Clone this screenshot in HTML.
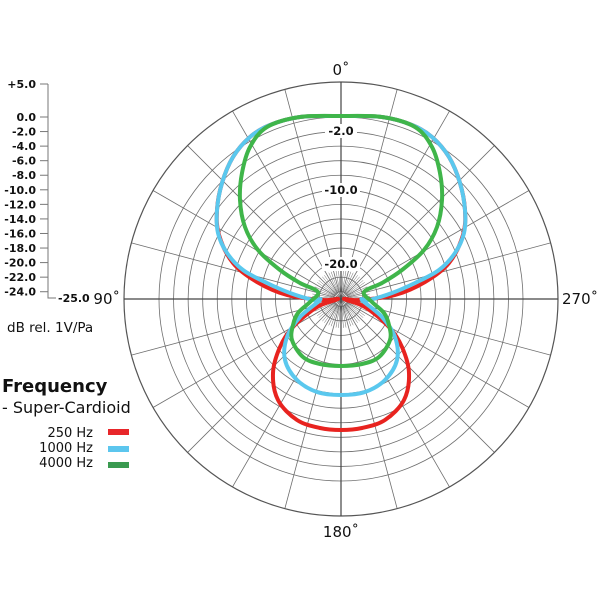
<!DOCTYPE html>
<html><head><meta charset="utf-8"><style>
html,body{margin:0;padding:0;background:#fff;}
svg{display:block;}
text{font-family:"DejaVu Sans","Liberation Sans",sans-serif;fill:#111;}
</style></head><body>
<svg id="s" width="600" height="600" viewBox="0 0 600 600" xmlns="http://www.w3.org/2000/svg">
<g id="grid" stroke="#6e6e6e" stroke-width="0.8" fill="none"></g>
<circle cx="341" cy="299" r="217" fill="none" stroke="#555" stroke-width="1.2"/>
<line x1="124" y1="299" x2="558" y2="299" stroke="#444" stroke-width="1.2"/>
<line x1="341" y1="82" x2="341" y2="516" stroke="#444" stroke-width="1.2"/>
<g id="lbl" font-size="11.5" font-weight="bold" text-anchor="middle">
<rect x="325" y="124" width="32" height="14" fill="#fff"/><text x="341" y="135">-2.0</text>
<rect x="322" y="183" width="38" height="14" fill="#fff"/><text x="341" y="194">-10.0</text>
<rect x="322" y="257" width="38" height="14" fill="#fff"/><text x="341" y="268">-20.0</text>
</g>
<g id="curves" fill="none" stroke-width="4" stroke-linejoin="round"></g>
<text x="341" y="75" font-size="15" text-anchor="middle">0˚</text>
<text x="341" y="537" font-size="15" text-anchor="middle">180˚</text>
<text x="120" y="304" font-size="15" text-anchor="end">90˚</text>
<text x="562" y="304" font-size="15">270˚</text>
<g id="scale" stroke="#777" stroke-width="1" fill="none"><polyline points="48,84 48,298 56,298"/></g>
<g id="slbl" font-size="11" font-weight="bold" text-anchor="end"></g>
<text x="58" y="302" font-size="11" font-weight="bold">-25.0</text>
<text x="7" y="332" font-size="13.5">dB rel. 1V/Pa</text>
<text x="2" y="392" font-size="18" font-weight="bold">Frequency</text>
<text x="2" y="413" font-size="16">- Super-Cardioid</text>
<text x="93" y="437" font-size="13" text-anchor="end">250 Hz</text>
<text x="93" y="452" font-size="13" text-anchor="end">1000 Hz</text>
<text x="93" y="467" font-size="13" text-anchor="end">4000 Hz</text>
<rect x="108" y="429" width="21" height="6" fill="#e8262a"/>
<rect x="108" y="446" width="21" height="6" fill="#5cc6ee"/>
<rect x="108" y="462" width="21" height="6" fill="#3a9a50"/>
</svg>
<script>
var NS="http://www.w3.org/2000/svg",cx=341,cy=299;
function el(t,a,p){var e=document.createElementNS(NS,t);for(var k in a)e.setAttribute(k,a[k]);p.appendChild(e);return e;}
var g=document.getElementById('grid');
for(var d=0;d>=-24;d-=2){el('circle',{cx:cx,cy:cy,r:182+d*7.28},g);}
el('circle',{cx:cx,cy:cy,r:7.3},g);
for(var a=0;a<360;a+=15){var t=a*Math.PI/180;el('line',{x1:cx,y1:cy,x2:cx+217*Math.sin(t),y2:cy-217*Math.cos(t)},g);}
for(var a=5;a<360;a+=5){if(a%15==0)continue;var t=a*Math.PI/180;el('line',{x1:cx+7.3*Math.sin(t),y1:cy-7.3*Math.cos(t),x2:cx+29*Math.sin(t),y2:cy-29*Math.cos(t),'stroke-width':0.5},g);}
var sc=document.getElementById('scale'),sl=document.getElementById('slbl');
function tick(y,s){el('line',{x1:40,y1:y,x2:48,y2:y},sc);var tx=el('text',{x:36,y:y+4},sl);tx.textContent=s;}
tick(84,'+5.0');
for(var d=0;d>=-24;d-=2){tick(117-d*7.28,(d==0?'0.0':d+'.0'));}
function path(pts,col){
 var L=pts.slice(),R=pts.slice().reverse().map(function(p){return [2*cx-p[0],p[1]];});
 var all=L.concat(R.slice(1));
 var s='M'+all[0][0]+','+all[0][1];
 for(var i=0;i<all.length-1;i++){var p0=all[Math.max(i-1,0)],p1=all[i],p2=all[i+1],p3=all[Math.min(i+2,all.length-1)];
  s+=' C'+(p1[0]+(p2[0]-p0[0])/6)+','+(p1[1]+(p2[1]-p0[1])/6)+' '+(p2[0]-(p3[0]-p1[0])/6)+','+(p2[1]-(p3[1]-p1[1])/6)+' '+p2[0]+','+p2[1];}
 el('path',{d:s+'Z',stroke:col},document.getElementById('curves'));
}
var red=[[341,116],[300,117],[270,125],[250,137],[233,157],[222,183],[217,210],[219,235],[233,263],[257,282],[287,295],[323,300],[338,299],[317,307],[293,327],[280,347],[273,373],[278,400],[297,420],[320,428],[341,430]];
var blue=[[341,116],[300,117],[270,125],[250,137],[233,157],[222,183],[217,210],[218,233],[227,253],[243,270],[267,283],[290,293],[313,300],[320,300],[300,317],[287,337],[285,360],[297,380],[317,392],[341,395]];
var green=[[341,116],[300,117],[267,127],[250,147],[242,173],[240,200],[245,227],[258,250],[280,270],[300,283],[318,292],[310,302],[298,313],[293,325],[292,340],[303,357],[320,364],[341,366]];
path(red,'#e8231f');path(blue,'#5ac8ee');path(green,'#3fb54a');
</script>
</body></html>
